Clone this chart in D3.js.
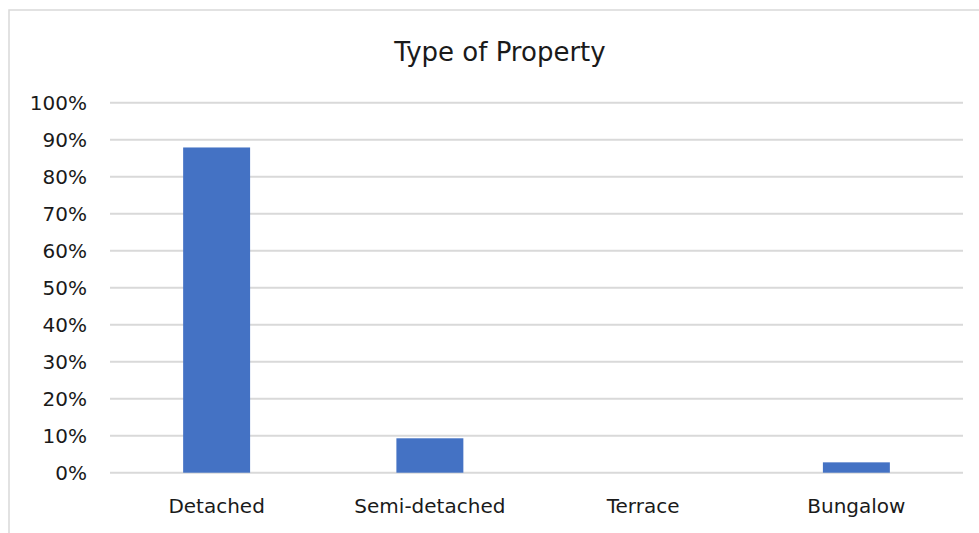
<!DOCTYPE html>
<html>
<head>
<meta charset="utf-8">
<script src="https://cdn.jsdelivr.net/npm/d3@7"></script>
<style>
  html, body { margin: 0; padding: 0; background: #ffffff; }
  svg { display: block; }
</style>
</head>
<body>
<svg id="chart" width="979" height="533"></svg>
<script>
const title = "Type of Property";
const categories = ["Detached", "Semi-detached", "Terrace", "Bungalow"];
const values = [0.879, 0.093, 0.0, 0.028];
const yTicks = [0, 0.1, 0.2, 0.3, 0.4, 0.5, 0.6, 0.7, 0.8, 0.9, 1.0];

const svg = d3.select("#chart");
const W = 979, H = 533;
const plot = { left: 110, right: 963, top: 102.7, bottom: 472.7 };

// chart area border
svg.append("rect")
  .attr("x", 9).attr("y", 10)
  .attr("width", 1000).attr("height", 600)
  .attr("fill", "#ffffff")
  .attr("stroke", "#d9d9d9")
  .attr("stroke-width", 1.5);

const x = d3.scaleBand()
  .domain(categories)
  .range([plot.left, plot.right])
  .paddingInner(0.686)
  .paddingOuter(0.343);

const y = d3.scaleLinear()
  .domain([0, 1])
  .range([plot.bottom, plot.top]);

// gridlines
svg.append("g")
  .selectAll("line")
  .data(yTicks)
  .join("line")
  .attr("x1", plot.left).attr("x2", plot.right)
  .attr("y1", d => y(d)).attr("y2", d => y(d))
  .attr("stroke", "#d9d9d9")
  .attr("stroke-width", 2);

// y tick labels
svg.append("g")
  .selectAll("text")
  .data(yTicks)
  .join("text")
  .attr("x", 87)
  .attr("y", d => y(d) + 7.5)
  .attr("text-anchor", "end")
  .attr("font-family", "DejaVu Sans, sans-serif")
  .attr("font-size", 20)
  .attr("fill", "#1a1a1a")
  .text(d => d3.format(".0%")(d));

// bars
svg.append("g")
  .selectAll("rect")
  .data(categories.map((c, i) => ({ c, v: values[i] })))
  .join("rect")
  .attr("x", d => x(d.c))
  .attr("y", d => y(d.v))
  .attr("width", x.bandwidth())
  .attr("height", d => y(0) - y(d.v))
  .attr("fill", "#4472c4");

// category labels
svg.append("g")
  .selectAll("text")
  .data(categories)
  .join("text")
  .attr("x", d => x(d) + x.bandwidth() / 2)
  .attr("y", 513)
  .attr("text-anchor", "middle")
  .attr("font-family", "DejaVu Sans, sans-serif")
  .attr("font-size", 20)
  .attr("fill", "#1a1a1a")
  .text(d => d);

// title
svg.append("text")
  .attr("x", 500)
  .attr("y", 61)
  .attr("text-anchor", "middle")
  .attr("font-family", "DejaVu Sans, sans-serif")
  .attr("font-size", 26)
  .attr("fill", "#1a1a1a")
  .text(title);
</script>
</body>
</html>
